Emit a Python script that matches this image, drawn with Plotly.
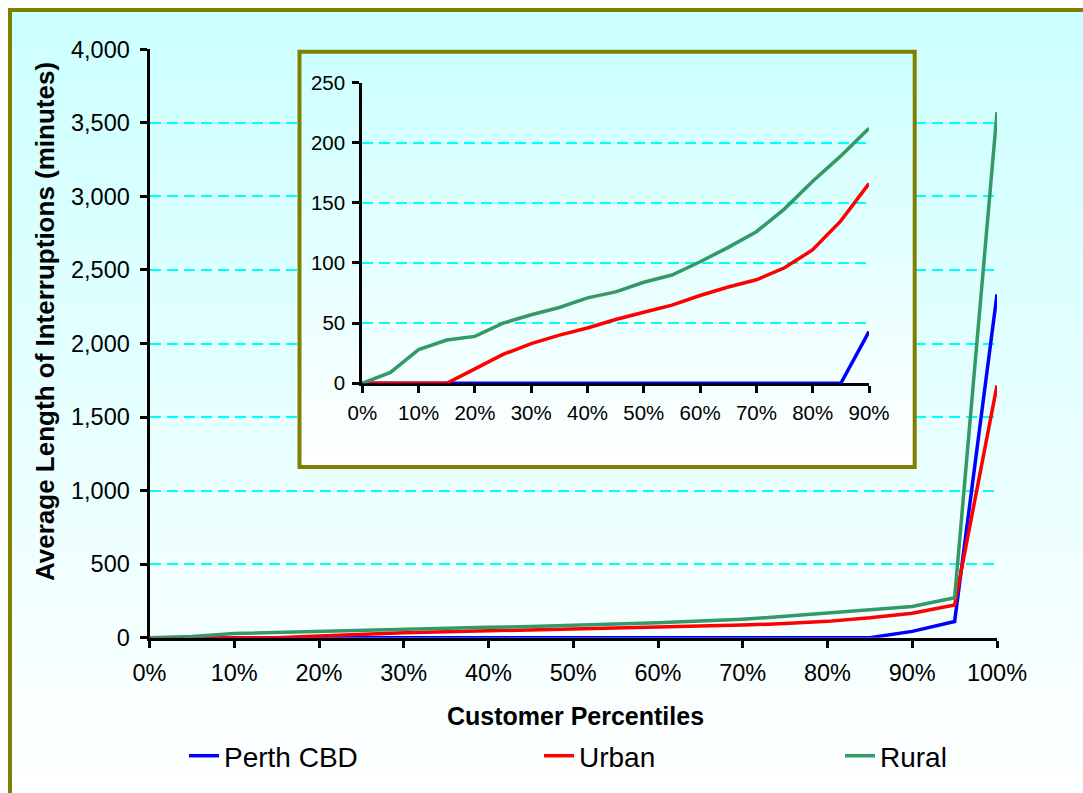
import plotly.graph_objects as go

# Customer percentile categories (fraction of customers)
percentiles = [0.00, 0.05, 0.10, 0.15, 0.20, 0.25, 0.30, 0.35, 0.40, 0.45,
               0.50, 0.55, 0.60, 0.65, 0.70, 0.75, 0.80, 0.85, 0.90, 0.95, 1.00]

# Average length of interruptions (minutes) per percentile
perth_cbd = [0, 0, 0, 0, 0, 0, 0, 0, 0, 0,
             0, 0, 0, 0, 0, 0, 0, 0, 43, 110, 2334]
urban = [0, 0, 0, 0, 12, 24, 33, 40, 46, 53,
         59, 65, 73, 80, 86, 96, 111, 135, 166, 222, 1715]
rural = [0, 9, 28, 36, 39, 50, 57, 63, 71, 76,
         84, 90, 101, 113, 126, 145, 168, 189, 212, 272, 3572]

# the inset zooms in on the 0% - 90% range
INSET_N = 19

series_names = ["Perth CBD", "Urban", "Rural"]
series_values = [perth_cbd, urban, rural]
series_colors = ["#0000FF", "#FF0000", "#339966"]

W, H = 1083, 793
FONT = "Liberation Sans, Arial, sans-serif"
OLIVE = "#808000"
GRID = "#00FFFF"


def fx(px):
    return px / W


def fy(py):
    return 1 - py / H


def blend(t):
    # t = 0 -> light cyan, t = 1 -> white
    r = round(204 + (255 - 204) * t)
    return f"rgb({r},255,255)"


fig = go.Figure()

legend_ids = ["legend", "legend2", "legend3"]
for name, vals, color, lid in zip(series_names, series_values, series_colors, legend_ids):
    fig.add_trace(go.Scatter(
        x=percentiles, y=vals, name=name, mode="lines",
        line=dict(color=color, width=3.5),
        xaxis="x", yaxis="y", legend=lid,
    ))

for name, vals, color in zip(series_names, series_values, series_colors):
    fig.add_trace(go.Scatter(
        x=percentiles[:INSET_N], y=vals[:INSET_N], name=name, mode="lines",
        line=dict(color=color, width=3.5),
        xaxis="x3", yaxis="y3", showlegend=False,
    ))

shapes = []

# chart-area gradient (light cyan at the top fading to white)
n_main = 100
top, bottom = 8, 800
for i in range(n_main):
    y_a = top + (bottom - top) * i / n_main
    y_b = top + (bottom - top) * (i + 1) / n_main + 0.6
    shapes.append(dict(
        type="rect", xref="paper", yref="paper",
        x0=fx(8), x1=fx(1100), y0=fy(y_b), y1=fy(y_a),
        fillcolor=blend(i / (n_main - 1)), line=dict(width=0), layer="below",
    ))

# inset panel gradient, drawn on its own subplot so it covers the main grid
n_inset = 60
for i in range(n_inset):
    shapes.append(dict(
        type="rect", xref="x2", yref="y2",
        x0=0, x1=1, y0=1 - (i + 1) / n_inset - 0.002, y1=1 - i / n_inset,
        fillcolor=blend(i / (n_inset - 1)), line=dict(width=0), layer="below",
    ))

# outer chart frame and inset frame
shapes.append(dict(
    type="rect", xref="paper", yref="paper",
    x0=fx(10), x1=fx(1110), y0=fy(820), y1=fy(10),
    line=dict(color=OLIVE, width=4), fillcolor="rgba(0,0,0,0)", layer="above",
))
shapes.append(dict(
    type="rect", xref="paper", yref="paper",
    x0=fx(299.5), x1=fx(914.7), y0=fy(467), y1=fy(51.7),
    line=dict(color=OLIVE, width=4), fillcolor="rgba(0,0,0,0)", layer="above",
))

axis_common = dict(
    showline=True, linecolor="black", linewidth=3,
    ticks="outside", ticklen=7, tickwidth=3, tickcolor="black",
    zeroline=False, layer="below traces", fixedrange=True, automargin=False,
)
main_font = dict(family=FONT, size=23.5, color="black")
inset_font = dict(family=FONT, size=20.5, color="black")

fig.update_layout(
    width=W, height=H,
    margin=dict(l=0, r=0, t=0, b=0, autoexpand=False),
    paper_bgcolor="white",
    plot_bgcolor="rgba(0,0,0,0)",
    font=dict(family=FONT, color="black"),
    shapes=shapes,
    xaxis=dict(
        domain=[fx(149.5), fx(997)], range=[0, 1], anchor="y",
        tick0=0, dtick=0.1, tickformat=".0%", showgrid=False,
        tickfont=main_font, ticklabelstandoff=5,
        **axis_common,
    ),
    yaxis=dict(
        domain=[fy(637.7), fy(49.3)], range=[0, 4000], anchor="x",
        dtick=500, tickformat=",",
        showgrid=True, gridcolor=GRID, gridwidth=1.5, griddash="11px,6px",
        tickfont=main_font, ticklabelstandoff=5,
        **axis_common,
    ),
    xaxis2=dict(
        domain=[fx(299.5), fx(914.7)], range=[0, 1], anchor="y2",
        visible=False, fixedrange=True,
    ),
    yaxis2=dict(
        domain=[fy(467), fy(51.7)], range=[0, 1], anchor="x2",
        visible=False, fixedrange=True,
    ),
    xaxis3=dict(
        domain=[fx(362.3), fx(869)], range=[0, 0.9], anchor="y3",
        tick0=0, dtick=0.1, tickformat=".0%", showgrid=False,
        tickfont=inset_font, ticklabelstandoff=2,
        **axis_common,
    ),
    yaxis3=dict(
        domain=[fy(383.3), fy(82.5)], range=[0, 250], anchor="x3",
        dtick=50,
        showgrid=True, gridcolor=GRID, gridwidth=1.5, griddash="11px,6px",
        tickfont=inset_font, ticklabelstandoff=3,
        **axis_common,
    ),
    annotations=[
        dict(
            text="<b>Customer Percentiles</b>", xref="paper", yref="paper",
            x=fx(575), y=fy(716), xanchor="center", yanchor="middle",
            showarrow=False, font=dict(family=FONT, size=25, color="black"),
        ),
        dict(
            text="<b>Average Length of Interruptions (minutes)</b>",
            xref="paper", yref="paper", textangle=-90,
            x=fx(45), y=fy(322), xanchor="center", yanchor="middle",
            showarrow=False, font=dict(family=FONT, size=26, color="black"),
        ),
    ],
    showlegend=True,
)

legend_style = dict(
    orientation="h", xanchor="left", yanchor="middle",
    bgcolor="rgba(0,0,0,0)", borderwidth=0,
    font=dict(family=FONT, size=28, color="black"),
)
fig.update_layout(
    legend=dict(x=fx(184), y=fy(756), **legend_style),
    legend2=dict(x=fx(539), y=fy(756), **legend_style),
    legend3=dict(x=fx(840), y=fy(756), **legend_style),
)

fig.write_html("out.html")
